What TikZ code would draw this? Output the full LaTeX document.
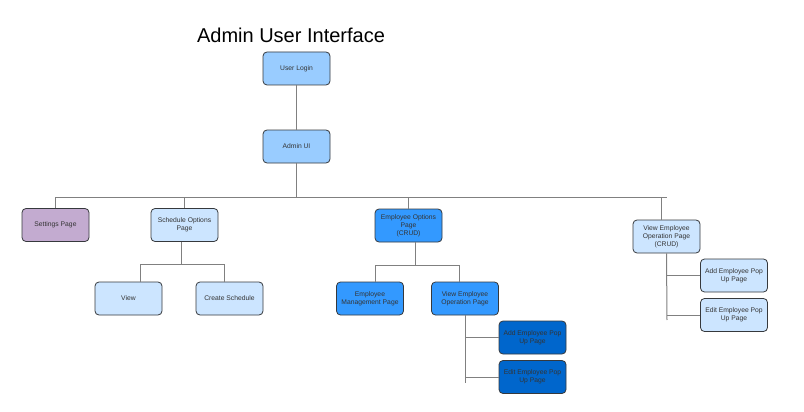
\documentclass[tikz,border=0pt]{standalone}
\usepackage{fontspec}
\setmainfont{Liberation Sans}
\usepackage{tikz}

\definecolor{toptone}{HTML}{99CCFF}
\definecolor{settingtone}{HTML}{C3ABD0}
\definecolor{lighttone}{HTML}{CCE5FF}
\definecolor{midtone}{HTML}{3399FF}
\definecolor{darktone}{HTML}{0066CC}
\definecolor{edgetone}{HTML}{36393D}
\definecolor{wiretone}{HTML}{808080}
\definecolor{texttone}{HTML}{333333}

\tikzset{
  page/.style={draw=edgetone, line width=0.8pt, rounded corners=4pt,
    minimum width=67pt, minimum height=33pt, inner sep=1pt, align=center,
    text=texttone, font=\fontsize{6.75}{8}\selectfont},
  wire/.style={draw=wiretone, line width=1pt}
}

\begin{document}
\begin{tikzpicture}[x=1pt,y=-1pt]
\useasboundingbox[fill=white] (0,0) rectangle (804,412);
% Title
\node (title) at (291,35.5) {\fontsize{20}{24}\selectfont Admin User Interface};
% Top boxes
\node[page, fill=toptone] (login) at (296.5,68.5) {User Login};
\node[page, fill=toptone] (admin) at (296.5,146.5) {Admin UI};
% Second level
\node[page, fill=settingtone] (settings) at (55.5,225) {Settings Page};
\node[page, fill=lighttone] (schedule) at (184.5,225) {Schedule Options\\Page};
\node[page, fill=midtone] (empopt) at (408.5,225.5) {Employee Options\\Page\\(CRUD)};
\node[page, fill=lighttone] (crud) at (666.5,236.5) {View Employee\\Operation Page\\(CRUD)};
% Schedule children
\node[page, fill=lighttone] (view) at (128.5,298.5) {View};
\node[page, fill=lighttone] (create) at (229.5,298.5) {Create Schedule};
% Employee children
\node[page, fill=midtone] (manage) at (370,298.5) {Employee\\Management Page};
\node[page, fill=midtone] (viewop) at (465,298.5) {View Employee\\Operation Page};
\node[page, fill=darktone] (addpop) at (532.5,337.5) {Add Employee Pop\\Up Page};
\node[page, fill=darktone] (editpop) at (532.5,377) {Edit Employee Pop\\Up Page};
% Right children
\node[page, fill=lighttone] (addcrud) at (734,275.5) {Add Employee Pop\\Up Page};
\node[page, fill=lighttone] (editcrud) at (734,315) {Edit Employee Pop\\Up Page};
% Joints
\coordinate (busL) at (55.5,197);
\coordinate (busR) at (667,197);
\coordinate (schedL) at (140,264);
\coordinate (schedR) at (224,264);
\coordinate (empL) at (375,265);
\coordinate (empR) at (459,265);
\coordinate (opEnd) at (465,383);
\coordinate (crudEnd) at (667,320);
% Connectors
\draw[wire] (login) -- (admin);
\draw[wire] (admin) -- (admin |- busL);
\draw[wire] (busL) -- (busR);
\draw[wire] (settings) -- (busL);
\draw[wire] (schedule) -- (schedule |- busL);
\draw[wire] (empopt) -- (empopt |- busL);
\draw[wire] ([xshift=-5.5pt]crud.north) -- ++(0,-23);
\draw[wire] ([xshift=-3.5pt]schedule.south) -- ([xshift=-3.5pt]schedule.south |- schedL);
\draw[wire] (schedL) -- (schedR);
\draw[wire] (schedL) -- (schedL |- view.north);
\draw[wire] (schedR) -- (schedR |- create.north);
\draw[wire] ([xshift=6.5pt]empopt.south) -- ([xshift=6.5pt]empopt.south |- empL);
\draw[wire] (empL) -- (empR);
\draw[wire] (empL) -- (empL |- manage.north);
\draw[wire] (empR) -- (empR |- viewop.north);
\draw[wire] (viewop) -- (opEnd);
\draw[wire] (addpop.west) -- (addpop.west -| opEnd);
\draw[wire] (editpop.west) -- (editpop.west -| opEnd);
\draw[wire] (crud.south) -- (crudEnd);
\draw[wire] (addcrud.west) -- (addcrud.west -| crudEnd);
\draw[wire] (editcrud.west) -- (editcrud.west -| crudEnd);
\end{tikzpicture}
\end{document}
